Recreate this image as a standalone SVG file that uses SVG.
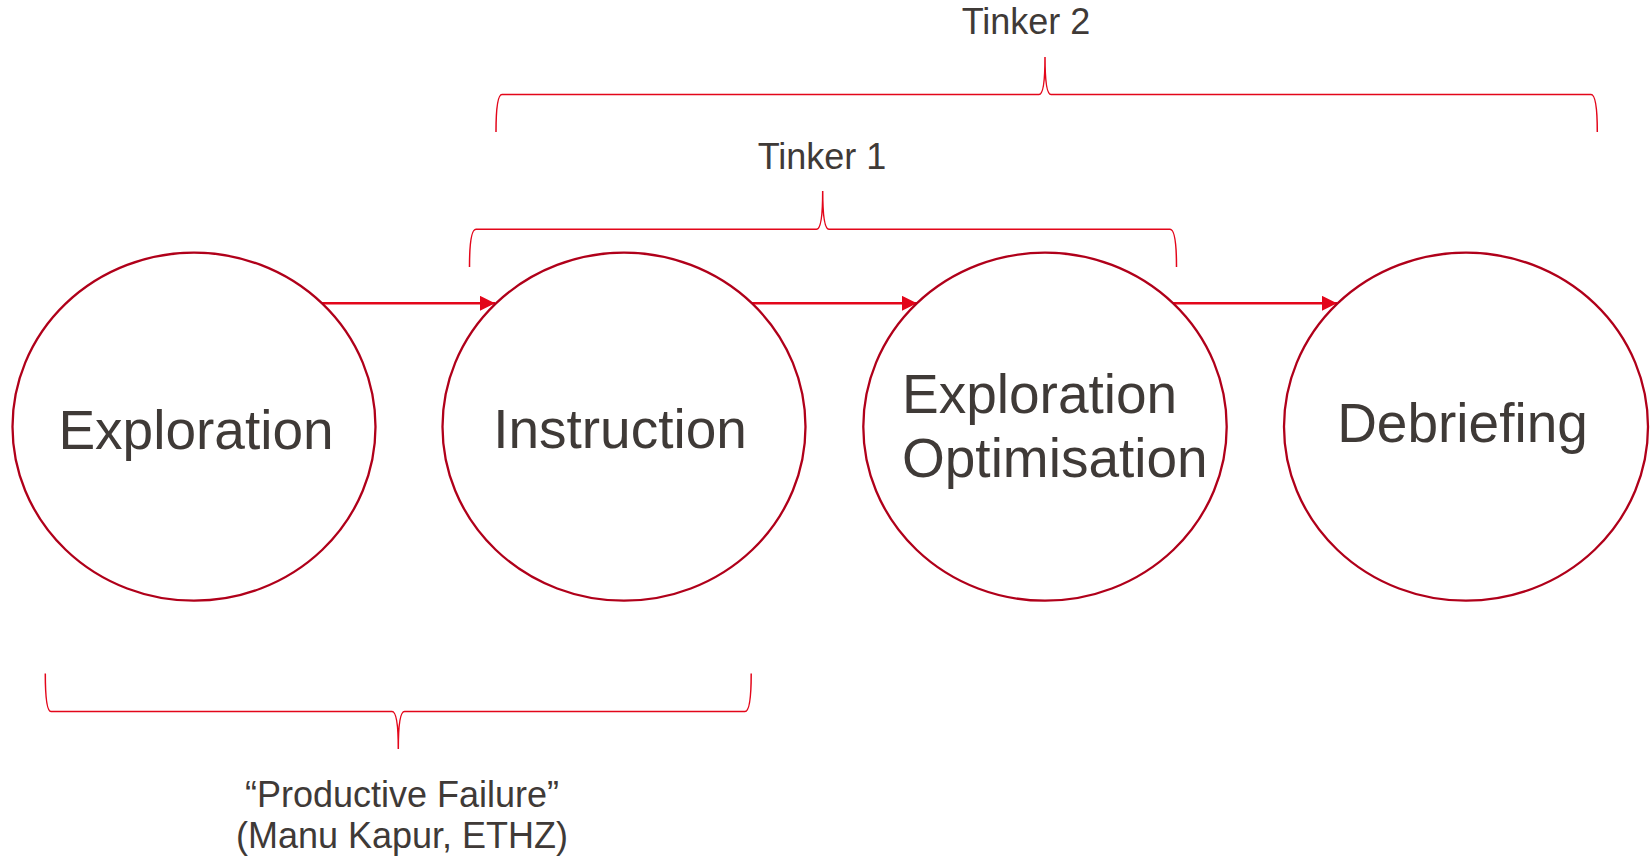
<svg xmlns="http://www.w3.org/2000/svg" width="1652" height="857" viewBox="0 0 1652 857">
  <style>
    .node { fill: #FFFFFF; stroke: #B0001A; stroke-width: 2.3; }
    .big { font-family: "Liberation Sans", Arial, Helvetica, sans-serif; font-size: 55px; fill: #3F3A37; }
    .small { font-family: "Liberation Sans", Arial, Helvetica, sans-serif; font-size: 36px; fill: #3F3A37; }
    .arrow { fill: none; stroke: #E3061A; stroke-width: 2.5; }
    .brace { fill: none; stroke: #E3061A; stroke-width: 1.5; }
  </style>
  <defs>
    <marker id="head" markerUnits="userSpaceOnUse" markerWidth="16" markerHeight="16" refX="15" refY="7.5" orient="auto">
      <path d="M0,0 L15,7.5 L0,15 z" fill="#E3061A"/>
    </marker>
  </defs>
  <rect width="1652" height="857" fill="#FFFFFF"/>

  <g id="braces">
    <path class="brace" d="M496,132 C496,110 497.5,94.5 502,94.5 L1039,94.5 C1043.5,94.5 1045,80 1045,57 C1045,80 1046.5,94.5 1051,94.5 L1591,94.5 C1596,94.5 1597.3,110 1597.3,132"/>
    <path class="brace" d="M469.5,267 C469.5,245 471,229.3 476,229.3 L816.5,229.3 C821,229.3 822.7,214 822.7,191 C822.7,214 824.4,229.3 829,229.3 L1170,229.3 C1175,229.3 1176.5,245 1176.5,267"/>
    <path class="brace" d="M45.3,673.5 C45.3,695 46.5,711.5 51,711.5 L392,711.5 C396.5,711.5 398.3,726 398.3,749 C398.3,726 400,711.5 404.5,711.5 L745,711.5 C749.5,711.5 751.2,695 751.2,673.5"/>
  </g>

  <g id="connectors">
    <line class="arrow" x1="322" y1="303.3" x2="495" y2="303.3" marker-end="url(#head)"/>
    <line class="arrow" x1="752" y1="303.3" x2="917" y2="303.3" marker-end="url(#head)"/>
    <line class="arrow" x1="1173" y1="303.3" x2="1337" y2="303.3" marker-end="url(#head)"/>
  </g>

  <g id="node-exploration">
    <ellipse class="node" cx="194" cy="426.7" rx="181.5" ry="174"/>
    <text class="big" x="196" y="449" text-anchor="middle">Exploration</text>
  </g>
  <g id="node-instruction">
    <ellipse class="node" cx="624" cy="426.7" rx="181.5" ry="174"/>
    <text class="big" x="620" y="448" text-anchor="middle" font-size="56.5">Instruction</text>
  </g>
  <g id="node-exploration-optimisation">
    <ellipse class="node" cx="1045" cy="426.7" rx="181.7" ry="174"/>
    <text class="big" x="902" y="413">Exploration</text>
    <text class="big" x="902" y="477" font-size="56">Optimisation</text>
  </g>
  <g id="node-debriefing">
    <ellipse class="node" cx="1466" cy="426.7" rx="182" ry="174"/>
    <text class="big" x="1462.5" y="442" text-anchor="middle">Debriefing</text>
  </g>

  <g id="labels">
    <text class="small" x="1026" y="33.5" text-anchor="middle">Tinker 2</text>
    <text class="small" x="822" y="169.3" text-anchor="middle" font-size="34">Tinker 1</text>
    <text class="small" x="402" y="807" text-anchor="middle" font-size="37">“Productive Failure”</text>
    <text class="small" x="402" y="848" text-anchor="middle" font-size="37">(Manu Kapur, ETHZ)</text>
  </g>
</svg>
